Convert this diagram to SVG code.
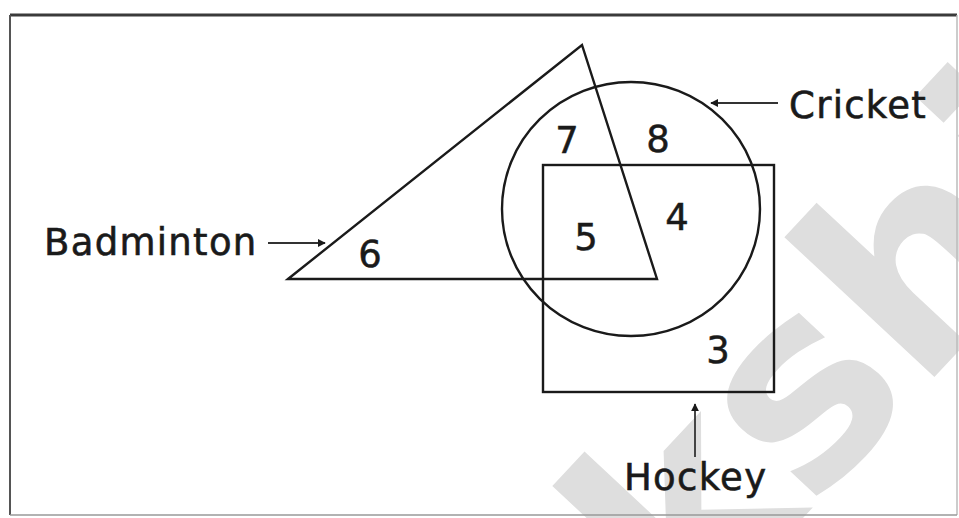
<svg xmlns="http://www.w3.org/2000/svg" width="959" height="518" viewBox="0 0 959 518">
  <defs>
    <style>
      .shape { fill: none; stroke: #1a1a1a; stroke-width: 2.4; }
      .lbl { font-family: "DejaVu Sans", Verdana, sans-serif; font-size: 37px; fill: #1a1a1a; stroke: #1a1a1a; stroke-width: 0.6; letter-spacing: 1.3px; }
      .num { font-family: "DejaVu Sans", Verdana, sans-serif; font-size: 37px; fill: #1a1a1a; stroke: #1a1a1a; stroke-width: 0.5; text-anchor: middle; }
      .conn { stroke: #333; stroke-width: 1.8; fill: none; marker-end: url(#ah); }
      .wm { font-family: "DejaVu Sans", sans-serif; font-weight: bold; font-size: 270px; fill: #dedede; }
    </style>
    <marker id="ah" viewBox="0 0 10 10" refX="9" refY="5" markerWidth="8" markerHeight="8" markerUnits="userSpaceOnUse" orient="auto">
      <path d="M0,0 L10,5 L0,10 Z" fill="#1a1a1a"/>
    </marker>
  </defs>
  <rect x="0" y="0" width="959" height="518" fill="#ffffff"/>
  <text class="wm" x="430" y="918" transform="rotate(-47 430 918)">Sakshi</text>
  <g id="frame">
    <line x1="10" y1="15" x2="957" y2="15" stroke="#3a3a3a" stroke-width="3"/>
    <line x1="10" y1="15" x2="10" y2="515" stroke="#555" stroke-width="2"/>
    <line x1="957" y1="15" x2="957" y2="515" stroke="#bbb" stroke-width="1.5"/>
    <line x1="10" y1="515" x2="957" y2="515" stroke="#999" stroke-width="1.5"/>
  </g>
  <g id="badminton">
    <polygon class="shape" points="288,279 582,45 657,279"/>
  </g>
  <g id="cricket">
    <ellipse class="shape" cx="631" cy="209" rx="129" ry="127"/>
  </g>
  <g id="hockey">
    <rect class="shape" x="543" y="165" width="231" height="227"/>
  </g>
  <g id="regions">
    <text class="num" x="370" y="267">6</text>
    <text class="num" x="567" y="153">7</text>
    <text class="num" x="658" y="152">8</text>
    <text class="num" x="586" y="250">5</text>
    <text class="num" x="677" y="230">4</text>
    <text class="num" x="718" y="363">3</text>
  </g>
  <g id="label-badminton">
    <text class="lbl" x="44" y="255">Badminton</text>
  </g>
  <g id="label-cricket">
    <text class="lbl" x="789" y="118">Cricket</text>
  </g>
  <g id="label-hockey">
    <text class="lbl" x="624" y="490">Hockey</text>
  </g>
  <g id="connectors">
    <line class="conn" x1="268" y1="243" x2="325" y2="243"/>
    <line class="conn" x1="778" y1="103" x2="711" y2="103"/>
    <line class="conn" x1="695" y1="457" x2="695" y2="404"/>
  </g>
</svg>
